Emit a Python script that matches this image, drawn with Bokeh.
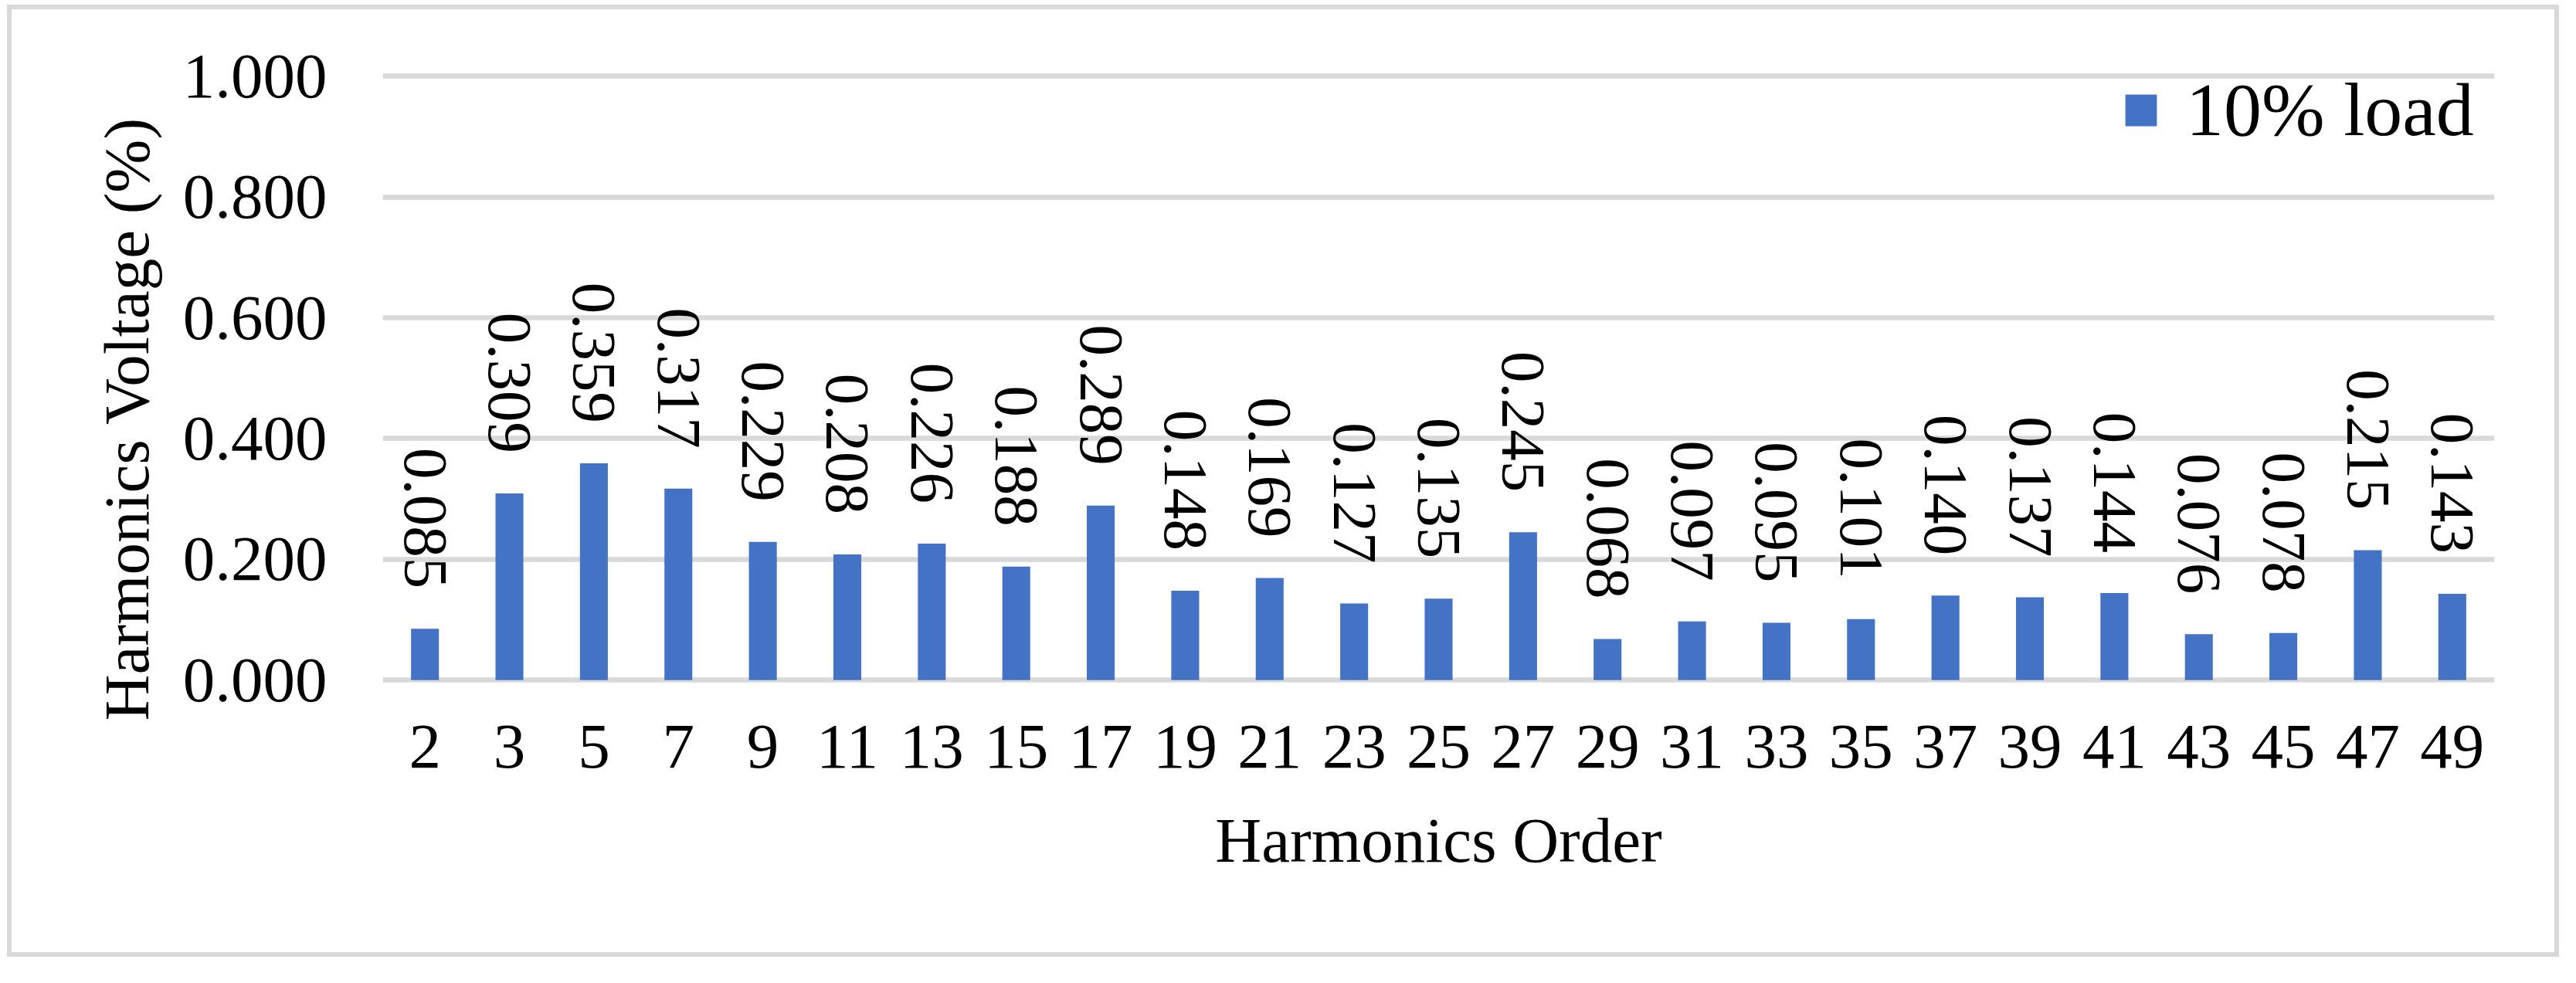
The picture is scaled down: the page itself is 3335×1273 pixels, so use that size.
from math import pi
from bokeh.plotting import figure
from bokeh.models import ColumnDataSource, FactorRange, Range1d, FixedTicker, Title
from bokeh.core.properties import value
from bokeh.embed import file_html
from bokeh.resources import INLINE

# ---- data ----
harmonic_orders = ["2", "3", "5", "7", "9", "11", "13", "15", "17", "19", "21", "23", "25",
                   "27", "29", "31", "33", "35", "37", "39", "41", "43", "45", "47", "49"]
voltage_10pct = [0.085, 0.309, 0.359, 0.317, 0.229, 0.208, 0.226, 0.188, 0.289, 0.148,
                 0.169, 0.127, 0.135, 0.245, 0.068, 0.097, 0.095, 0.101, 0.140, 0.137,
                 0.144, 0.076, 0.078, 0.215, 0.143]
y_ticks = [0.0, 0.2, 0.4, 0.6, 0.8, 1.0]
y_tick_labels = ["0.000", "0.200", "0.400", "0.600", "0.800", "1.000"]
series_name = "10% load"
x_title = "Harmonics Order"
y_title = "Harmonics Voltage (%)"

# ---- style ----
FONT = "Liberation Serif"
BAR = "#4472C4"
GRID = "#D9D9D9"

src = ColumnDataSource(dict(
    x=harmonic_orders,
    top=voltage_10pct,
    label=[f"{v:.3f}" for v in voltage_10pct],
))

p = figure(
    x_range=FactorRange(factors=harmonic_orders, range_padding=0),
    y_range=Range1d(-0.01, 1.09),
    width=3292, height=1221,
    output_backend="svg", toolbar_location=None,
    min_border_left=480, min_border_right=90,
    min_border_top=16, min_border_bottom=357,
    background_fill_color="white", border_fill_color="white",
)
p.margin = (6, 0, 0, 9)
p.styles = {"border": "6px solid #D9D9D9", "box-sizing": "content-box"}
p.outline_line_color = None

p.vbar(x="x", top="top", bottom=0, width=0.33, source=src,
       fill_color=BAR, line_color=None, legend_label=series_name)

p.text(x="x", y="top", text="label", source=src, angle=-pi / 2,
       text_align="right", text_baseline="middle", y_offset=-52,
       text_font=value(FONT), text_font_size="81px", text_color="black")

# grid
p.xgrid.visible = False
p.ygrid.ticker = FixedTicker(ticks=y_ticks)
p.ygrid.grid_line_color = GRID
p.ygrid.grid_line_width = 6.5

# axes
p.yaxis.ticker = FixedTicker(ticks=y_ticks)
p.yaxis.major_label_overrides = dict(zip(y_ticks, y_tick_labels))
p.xaxis.axis_label = x_title
for ax in (p.xaxis[0], p.yaxis[0]):
    ax.axis_line_color = None
    ax.major_tick_line_color = None
    ax.minor_tick_line_color = None
    ax.major_tick_in = 0
    ax.major_tick_out = 0
    ax.major_label_text_font = FONT
    ax.major_label_text_font_size = "83px"
    ax.major_label_text_color = "black"
    ax.axis_label_text_font = FONT
    ax.axis_label_text_font_size = "83px"
    ax.axis_label_text_font_style = "normal"
    ax.axis_label_text_color = "black"

p.yaxis.major_label_standoff = 72
p.xaxis.major_label_standoff = 51
p.xaxis.axis_label_standoff = 45

# y-axis title as a side title (lets it sit where the reference centres it)
p.add_layout(Title(text=y_title, align="left", vertical_align="bottom",
                   offset=-45, standoff=48, text_font=FONT,
                   text_font_size="83px", text_font_style="normal",
                   text_color="black"), "left")

# legend
lg = p.legend[0]
lg.location = (2251, 690)
lg.glyph_width = 51
lg.glyph_height = 51
lg.label_text_font = FONT
lg.label_text_font_size = "98px"
lg.label_text_color = "black"
lg.label_standoff = 33
lg.padding = 0
lg.margin = 0
lg.spacing = 0
lg.border_line_color = None
lg.background_fill_alpha = 0

open("out.html", "w").write(file_html(p, INLINE))
